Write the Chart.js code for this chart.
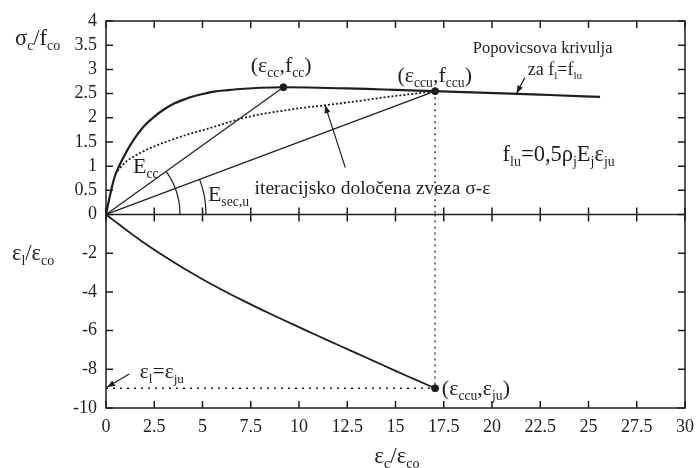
<!DOCTYPE html>
<html>
<head>
<meta charset="utf-8">
<script src="https://cdn.jsdelivr.net/npm/chart.js@4.4.1/dist/chart.umd.min.js"></script>
<style>
  html, body { margin: 0; padding: 0; background: #fff; }
  canvas { display: block; }
</style>
</head>
<body>
<canvas id="chart" width="696" height="468" style="width:696px;height:468px"></canvas>
<script>
// --- SETTINGS ---
const FONT = '"Liberation Serif", "Times New Roman", serif';
const INK = '#1e1e1e';

// --- DATA ---
const xTicks = [0, 2.5, 5, 7.5, 10, 12.5, 15, 17.5, 20, 22.5, 25, 27.5, 30];
const stressTicks = [0, 0.5, 1, 1.5, 2, 2.5, 3, 3.5, 4];
const lateralTicks = [-10, -8, -6, -4, -2, 0];

// Popovics curve (σc/fco vs εc/εco)
const popStrain = [0, 0.2, 0.41, 0.62, 0.93, 1.25, 1.62, 2.0, 2.49, 3.0, 3.5, 4.0, 4.5, 5.0, 5.6, 6.3, 7.15, 8.0, 9.19, 10.5, 12.0, 13.5, 15.0, 17.05, 19.0, 21.0, 23.0, 25.6];
const popStress = [0, 0.38, 0.73, 0.95, 1.2, 1.43, 1.65, 1.84, 2.02, 2.17, 2.29, 2.37, 2.44, 2.49, 2.54, 2.57, 2.6, 2.62, 2.63, 2.625, 2.61, 2.595, 2.575, 2.55, 2.525, 2.5, 2.47, 2.43];

// iteracijsko dolocena zveza (dotted)
const iterStrain = [0.6, 1.0, 1.45, 2.0, 2.5, 3.3, 4.2, 5.5, 6.8, 8.0, 9.4, 10.3, 11.4, 12.8, 14.2, 15.6, 17.05];
const iterStress = [0.9, 1.08, 1.2, 1.32, 1.41, 1.53, 1.65, 1.8, 1.96, 2.07, 2.16, 2.21, 2.26, 2.33, 2.41, 2.48, 2.55];

// lateral strain εl/εco
const latStrain = [0, 0.5, 1, 1.5, 2, 3, 4, 5, 6, 7, 8, 9, 10, 11, 12, 13, 14, 15, 16, 17.05];
const latRatio = [0, -0.38, -0.76, -1.13, -1.49, -2.15, -2.77, -3.35, -3.89, -4.4, -4.89, -5.36, -5.82, -6.28, -6.73, -7.18, -7.63, -8.08, -8.52, -8.98];

const peakPoint = [9.19, 2.63];   // (εcc, fcc)
const ultPoint = [17.05, 2.55];   // (εccu, fccu)
const ultLateral = [17.05, -8.98]; // (εccu, εju)

const pts = (xs, ys) => xs.map((x, i) => ({ x: x, y: ys[i] }));

// --- TEXT HELPERS ---
// "f_{lu}" -> [['f', false], ['lu', true]]
function parseRich(str) {
    const parts = [];
    const re = /_\{([^}]*)\}/g;
    let last = 0, m;
    while ((m = re.exec(str)) !== null) {
        if (m.index > last) parts.push([str.slice(last, m.index), false]);
        parts.push([m[1], true]);
        last = re.lastIndex;
    }
    if (last < str.length) parts.push([str.slice(last), false]);
    return parts;
}

function richWidth(ctx, str, size) {
    let w = 0;
    parseRich(str).forEach(([t, sub]) => {
        ctx.font = (sub ? size * 0.62 : size) + 'px ' + FONT;
        w += ctx.measureText(t).width;
    });
    return w;
}

function drawRich(ctx, str, x, y, size, align) {
    let cx = x;
    if (align === 'center') cx = x - richWidth(ctx, str, size) / 2;
    ctx.textBaseline = 'alphabetic';
    ctx.textAlign = 'left';
    parseRich(str).forEach(([t, sub]) => {
        ctx.font = (sub ? size * 0.62 : size) + 'px ' + FONT;
        ctx.fillText(t, cx, sub ? y + size * 0.22 : y);
        cx += ctx.measureText(t).width;
    });
}

function arrow(ctx, x1, y1, x2, y2) {
    ctx.beginPath();
    ctx.moveTo(x1, y1);
    ctx.lineTo(x2, y2);
    ctx.stroke();
    const a = Math.atan2(y2 - y1, x2 - x1);
    const len = 8, half = 3;
    ctx.beginPath();
    ctx.moveTo(x2, y2);
    ctx.lineTo(x2 - len * Math.cos(a) + half * Math.sin(a), y2 - len * Math.sin(a) - half * Math.cos(a));
    ctx.lineTo(x2 - len * Math.cos(a) - half * Math.sin(a), y2 - len * Math.sin(a) + half * Math.cos(a));
    ctx.closePath();
    ctx.fill();
}

// annotations in data coordinates (axis: 'y' top panel, 'y2' bottom panel)
const labels = [
    { text: '(ε_{cc},f_{cc})', x: 7.5, y: 2.94, axis: 'y', size: 22 },
    { text: '(ε_{ccu},f_{ccu})', x: 15.1, y: 2.74, axis: 'y', size: 22 },
    { text: 'Popovicsova krivulja', x: 19.0, y: 3.33, axis: 'y', size: 16.5 },
    { text: 'za f_{l}=f_{lu}', x: 21.85, y: 2.89, axis: 'y', size: 18 },
    { text: 'f_{lu}=0,5ρ_{j}E_{j}ε_{ju}', x: 20.55, y: 1.1, axis: 'y', size: 22.5 },
    { text: 'iteracijsko določena zveza σ-ε', x: 7.7, y: 0.42, axis: 'y', size: 19.5 },
    { text: 'E_{cc}', x: 1.4, y: 0.86, axis: 'y', size: 22 },
    { text: 'E_{sec,u}', x: 5.28, y: 0.28, axis: 'y', size: 22 },
    { text: '(ε_{ccu},ε_{ju})', x: 17.4, y: -9.33, axis: 'y2', size: 22 },
    { text: 'ε_{l}=ε_{ju}', x: 1.75, y: -8.45, axis: 'y2', size: 21.5 }
];

const arrows = [
    { from: [21.7, 2.83], to: [21.27, 2.5], axis: 'y' },
    { from: [12.4, 0.97], to: [11.35, 2.26], axis: 'y' },
    { from: [1.2, -8.24], to: [0.05, -8.93], axis: 'y2' }
];

// --- FRAME, ARCS, TEXT ---
const decorPlugin = {
    id: 'decor',
    afterDatasetsDraw(chart) {
        const ctx = chart.ctx;
        const { x, y, y2 } = chart.scales;
        const L = x.left, R = x.right;
        const T = Math.min(y.top, y2.top);
        const B = Math.max(y.bottom, y2.bottom);
        const M = y.getPixelForValue(0);

        ctx.save();
        ctx.setLineDash([]);
        ctx.strokeStyle = INK;
        ctx.fillStyle = INK;
        ctx.lineWidth = 1.5;
        ctx.strokeRect(L, T, R - L, B - T);
        ctx.beginPath();
        ctx.moveTo(L, M); ctx.lineTo(R, M);
        ctx.stroke();

        // angle arcs for Ecc and Esec,u
        ctx.lineWidth = 1.2;
        const ox = x.getPixelForValue(0), oy = y.getPixelForValue(0);
        [[peakPoint, 74], [ultPoint, 100]].forEach(([p, r]) => {
            const a = Math.atan2(y.getPixelForValue(p[1]) - oy, x.getPixelForValue(p[0]) - ox);
            ctx.beginPath();
            ctx.arc(ox, oy, r, a, 0);
            ctx.stroke();
        });

        // arrows
        arrows.forEach(a => {
            const s = chart.scales[a.axis];
            arrow(ctx, x.getPixelForValue(a.from[0]), s.getPixelForValue(a.from[1]),
                x.getPixelForValue(a.to[0]), s.getPixelForValue(a.to[1]));
        });

        // labels
        labels.forEach(l => {
            const s = chart.scales[l.axis];
            drawRich(ctx, l.text, x.getPixelForValue(l.x), s.getPixelForValue(l.y), l.size);
        });

        // axis titles
        drawRich(ctx, 'σ_{c}/f_{co}', 15, 45, 22.5);
        drawRich(ctx, 'ε_{l}/ε_{co}', 12, 260, 22.5);
        drawRich(ctx, 'ε_{c}/ε_{co}', 397, 463, 23, 'center');
        ctx.restore();
    }
};

// --- INWARD TICK MARKS (drawn last) ---
const tickPlugin = {
    id: 'inwardTicks',
    afterDraw(chart) {
        const ctx = chart.ctx;
        const xs = chart.scales.x, ys = chart.scales.y, ys2 = chart.scales.y2;
        const area = chart.chartArea;
        const mid = ys.getPixelForValue(0);
        const len = 7;

        ctx.save();
        ctx.setLineDash([]);
        ctx.strokeStyle = INK;
        ctx.lineWidth = 1.5;
        ctx.beginPath();
        for (const v of xTicks) {
            const px = xs.getPixelForValue(v);
            ctx.moveTo(px, area.top); ctx.lineTo(px, area.top + len);
            ctx.moveTo(px, mid - len); ctx.lineTo(px, mid + len);
            ctx.moveTo(px, area.bottom); ctx.lineTo(px, area.bottom - len);
        }
        for (const v of stressTicks) {
            const py = ys.getPixelForValue(v);
            ctx.moveTo(area.left, py); ctx.lineTo(area.left + len, py);
            ctx.moveTo(area.right, py); ctx.lineTo(area.right - len, py);
        }
        for (const v of lateralTicks) {
            const py = ys2.getPixelForValue(v);
            ctx.moveTo(area.left, py); ctx.lineTo(area.left + len, py);
            ctx.moveTo(area.right, py); ctx.lineTo(area.right - len, py);
        }
        ctx.stroke();
        ctx.restore();
    }
};

// --- CHART ---
const tickFont = { family: FONT, size: 18 };

new Chart(document.getElementById('chart'), {
    type: 'line',
    data: {
        datasets: [
            {   // Popovics
                data: pts(popStrain, popStress), yAxisID: 'y',
                borderColor: INK, borderWidth: 2.2, pointRadius: 0,
                cubicInterpolationMode: 'monotone'
            },
            {   // iterative relation
                data: pts(iterStrain, iterStress), yAxisID: 'y',
                borderColor: INK, borderWidth: 1.8, borderDash: [2, 2], pointRadius: 0,
                cubicInterpolationMode: 'monotone'
            },
            {   // Ecc secant
                data: pts([0, peakPoint[0]], [0, peakPoint[1]]), yAxisID: 'y',
                borderColor: INK, borderWidth: 1.2, pointRadius: 0
            },
            {   // Esec,u secant
                data: pts([0, ultPoint[0]], [0, ultPoint[1]]), yAxisID: 'y',
                borderColor: INK, borderWidth: 1.2, pointRadius: 0
            },
            {   // vertical dotted, top
                data: pts([ultPoint[0], ultPoint[0]], [ultPoint[1], 0]), yAxisID: 'y',
                borderColor: INK, borderWidth: 1.3, borderDash: [2, 4], pointRadius: 0
            },
            {   // vertical dotted, bottom
                data: pts([ultLateral[0], ultLateral[0]], [0, ultLateral[1]]), yAxisID: 'y2',
                borderColor: INK, borderWidth: 1.3, borderDash: [2, 4], pointRadius: 0
            },
            {   // horizontal dotted εl = εju
                data: pts([0, ultLateral[0]], [ultLateral[1], ultLateral[1]]), yAxisID: 'y2',
                borderColor: INK, borderWidth: 1.3, borderDash: [2, 5], pointRadius: 0
            },
            {   // lateral strain
                data: pts(latStrain, latRatio), yAxisID: 'y2',
                borderColor: INK, borderWidth: 1.8, pointRadius: 0,
                cubicInterpolationMode: 'monotone'
            },
            {   // markers top
                data: pts([peakPoint[0], ultPoint[0]], [peakPoint[1], ultPoint[1]]), yAxisID: 'y',
                showLine: false, pointRadius: 3.5, pointBackgroundColor: INK, pointBorderColor: INK
            },
            {   // marker bottom
                data: pts([ultLateral[0]], [ultLateral[1]]), yAxisID: 'y2',
                showLine: false, pointRadius: 3.5, pointBackgroundColor: INK, pointBorderColor: INK
            }
        ]
    },
    options: {
        responsive: false,
        animation: false,
        layout: { padding: { left: 0, right: 11, top: 21, bottom: 0 } },
        plugins: { legend: { display: false }, tooltip: { enabled: false } },
        scales: {
            x: {
                type: 'linear', min: 0, max: 30,
                afterBuildTicks: s => { s.ticks = xTicks.map(v => ({ value: v })); },
                afterFit: s => { s.height = 60; s.paddingLeft = 0; s.paddingRight = 0; },
                grid: { display: false, drawTicks: false },
                border: { display: false },
                ticks: { font: tickFont, color: INK, padding: 8, maxRotation: 0, autoSkip: false, callback: v => String(v) }
            },
            // bottom panel listed first: Chart.js stacks left axes in reverse order
            y2: {
                type: 'linear', position: 'left', stack: 'panels', stackWeight: 1,
                min: -10, max: 0,
                afterBuildTicks: s => { s.ticks = lateralTicks.map(v => ({ value: v })); },
                afterFit: s => { s.width = 106; },
                grid: { display: false, drawTicks: false },
                border: { display: false },
                ticks: {
                    font: tickFont, color: INK, padding: 9, autoSkip: false,
                    callback: v => (v === 0 ? '' : String(v))
                }
            },
            y: {
                type: 'linear', position: 'left', stack: 'panels', stackWeight: 1,
                min: 0, max: 4,
                afterBuildTicks: s => { s.ticks = stressTicks.map(v => ({ value: v })); },
                afterFit: s => { s.width = 106; },
                grid: { display: false, drawTicks: false },
                border: { display: false },
                ticks: { font: tickFont, color: INK, padding: 9, autoSkip: false, callback: v => String(v) }
            }
        }
    },
    plugins: [decorPlugin, tickPlugin]
});
</script>
</body>
</html>
